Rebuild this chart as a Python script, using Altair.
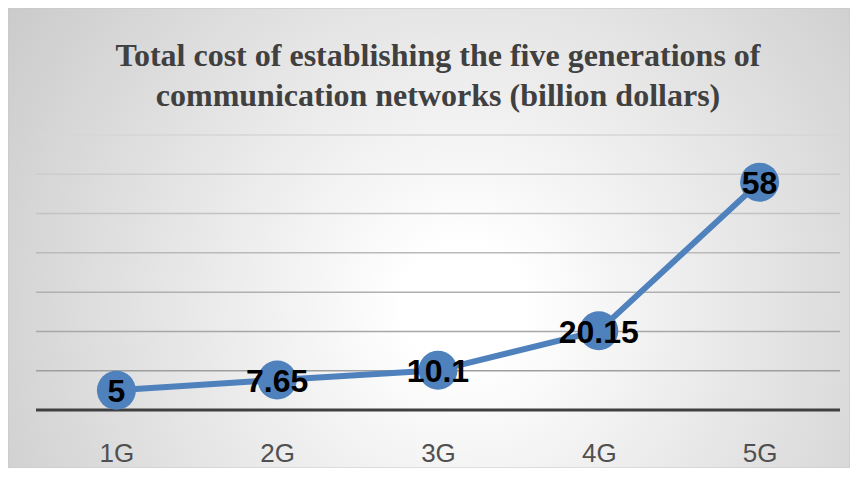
import altair as alt
import pandas as pd

categories = ["1G", "2G", "3G", "4G", "5G"]
values = [5, 7.65, 10.1, 20.15, 58]
labels = ["5", "7.65", "10.1", "20.15", "58"]
grid_values = [10, 20, 30, 40, 50, 60, 70]
baseline_values = [0]
title_line1 = "Total cost of establishing the five generations of"
title_line2 = "communication networks (billion dollars)"

df = pd.DataFrame({"gen": categories, "cost": values, "label": labels})
grid_df = pd.DataFrame({"v": grid_values})
base_df = pd.DataFrame({"v": baseline_values})
one_df = pd.DataFrame({"k": [0]})

W, H = 804, 275
PL, PT, PR, PB = 28, 127, 10, 58

xscale = alt.Scale(domain=categories)
yscale = alt.Scale(domain=[0, 70], nice=False, zero=True)

bg = alt.Chart(one_df).mark_rect(
    clip=False,
    fill=alt.Gradient(
        gradient="radial",
        stops=[
            alt.GradientStop(color="#ffffff", offset=0),
            alt.GradientStop(color="#ffffff", offset=0.1),
            alt.GradientStop(color="#c4c4c4", offset=1),
        ],
        x1=0.54, y1=0.58, r1=0,
        x2=0.54, y2=0.58, r2=0.72,
    ),
    stroke="#c8c8c8",
    strokeWidth=1,
).encode(
    x=alt.value(-PL),
    x2=alt.value(W + PR),
    y=alt.value(-PT),
    y2=alt.value(H + PB),
)

title_style = dict(
    font="Liberation Serif",
    fontSize=32,
    fontWeight="bold",
    color="#404040",
    align="center",
    baseline="alphabetic",
    clip=False,
)
t1 = alt.Chart(one_df).mark_text(text=title_line1, **title_style).encode(
    x=alt.value(W / 2), y=alt.value(-69)
)
t2 = alt.Chart(one_df).mark_text(text=title_line2, **title_style).encode(
    x=alt.value(W / 2), y=alt.value(-29)
)

grid = alt.Chart(grid_df).mark_rule(strokeWidth=1.5).encode(
    y=alt.Y("v:Q", scale=yscale, axis=None),
    color=alt.Color(
        "v:Q",
        scale=alt.Scale(domain=[10, 70], range=["#9e9e9e", "#d6d6d6"]),
        legend=None,
    ),
)

base = alt.Chart(base_df).mark_rule(strokeWidth=3, color="#404040").encode(
    y=alt.Y("v:Q", scale=yscale, axis=None),
)

xaxis = alt.Axis(
    title=None,
    domain=False,
    ticks=False,
    tickSize=0,
    grid=False,
    labelAngle=0,
    labelFont="Liberation Sans",
    labelFontSize=26,
    labelColor="#505050",
    labelPadding=30,
    zindex=1,
)

line = alt.Chart(df).mark_line(color="#4f81bd", strokeWidth=6).encode(
    x=alt.X("gen:N", scale=xscale, axis=xaxis, sort=categories),
    y=alt.Y("cost:Q", scale=yscale, axis=None),
)

pts = alt.Chart(df).mark_point(
    shape="circle", filled=True, size=1520, color="#4f81bd", opacity=1
).encode(
    x=alt.X("gen:N", scale=xscale, sort=categories),
    y=alt.Y("cost:Q", scale=yscale),
)

txt = alt.Chart(df).mark_text(
    font="Liberation Sans",
    fontSize=32,
    fontWeight="bold",
    color="#000000",
    baseline="middle",
    align="center",
    dy=2,
).encode(
    x=alt.X("gen:N", scale=xscale, sort=categories),
    y=alt.Y("cost:Q", scale=yscale),
    text="label:N",
)

chart = alt.layer(bg, t1, t2, grid, base, line, pts, txt).properties(
    width=W,
    height=H,
    padding={"left": PL, "top": PT, "right": PR, "bottom": PB},
    autosize=alt.AutoSizeParams(type="none"),
).configure_view(stroke=None).configure(background="#ffffff")

chart.save("out.html", embed_options={"renderer": "svg", "actions": False})
